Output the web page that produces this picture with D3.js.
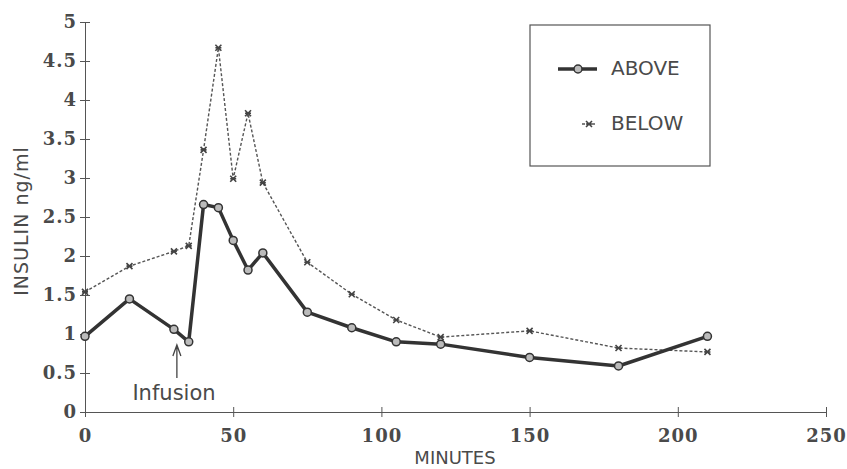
<!DOCTYPE html>
<meta charset="utf-8">
<style>
body { margin: 0; background: #fff; }
.axis path, .axis line { stroke: #555; }
.lbl { font-family: "DejaVu Sans", sans-serif; fill: #4a4a4a; }
</style>
<svg id="chart" width="847" height="469"></svg>
<script src="https://d3js.org/d3.v7.min.js"></script>
<script>

// data
var minutes = [0, 15, 30, 35, 40, 45, 50, 55, 60, 75, 90, 105, 120, 150, 180, 210];
var above = [0.97, 1.45, 1.06, 0.9, 2.66, 2.62, 2.2, 1.82, 2.04, 1.28, 1.08, 0.9, 0.87, 0.7, 0.59, 0.97];
var below = [1.54, 1.87, 2.06, 2.13, 3.36, 4.67, 2.99, 3.83, 2.94, 1.92, 1.51, 1.18, 0.96, 1.04, 0.82, 0.77];
var xTicks = [0, 50, 100, 150, 200, 250];
var yTicks = [0, 0.5, 1, 1.5, 2, 2.5, 3, 3.5, 4, 4.5, 5];

var svg = d3.select("#chart");

var x = d3.scaleLinear().domain([0, 250]).range([85, 826]);
var y = d3.scaleLinear().domain([0, 5]).range([412, 22]);

function tickFont(sel) {
  sel.attr("font-family", "'DejaVu Serif', serif")
     .attr("font-size", 18)
     .attr("font-weight", "bold")
     .attr("letter-spacing", 1)
     .attr("fill", "#4a4a4a");
}

// x axis, ticks cross the line
var xAxis = svg.append("g")
    .attr("class", "axis")
    .attr("transform", "translate(0,412)")
    .call(d3.axisBottom(x).tickValues(xTicks).tickSize(5).tickSizeOuter(0).tickFormat(d3.format("d")));
xAxis.selectAll(".tick line").attr("y1", -5);
xAxis.selectAll(".tick text").attr("y", 30).attr("dy", 0).call(tickFont);

var yAxis = svg.append("g")
    .attr("class", "axis")
    .attr("transform", "translate(85,0)")
    .call(d3.axisLeft(y).tickValues(yTicks).tickSize(5).tickSizeOuter(0).tickFormat(d3.format("")));
yAxis.selectAll(".tick line").attr("x1", 5);
yAxis.selectAll(".tick text").attr("x", -8).call(tickFont);

var line = d3.line()
    .x(function(d) { return x(d[0]); })
    .y(function(d) { return y(d[1]); });

var belowPts = minutes.map(function(m, i) { return [m, below[i]]; });
var abovePts = minutes.map(function(m, i) { return [m, above[i]]; });

svg.append("path")
    .datum(belowPts)
    .attr("d", line)
    .attr("fill", "none")
    .attr("stroke", "#555")
    .attr("stroke-width", 1.4)
    .attr("stroke-dasharray", "3,2");

function star(g, cx, cy, s) {
  g.append("path")
      .attr("d", "M" + (cx - s) + "," + (cy - s) + "L" + (cx + s) + "," + (cy + s) +
                 "M" + (cx - s) + "," + (cy + s) + "L" + (cx + s) + "," + (cy - s) +
                 "M" + (cx - s) + "," + cy + "L" + (cx + s) + "," + cy)
      .attr("stroke", "#444")
      .attr("stroke-width", 1.6);
}

var starG = svg.append("g");
belowPts.forEach(function(d) { star(starG, x(d[0]), y(d[1]), 3); });

svg.append("path")
    .datum(abovePts)
    .attr("d", line)
    .attr("fill", "none")
    .attr("stroke", "#333")
    .attr("stroke-width", 3.5)
    .attr("stroke-linejoin", "round");

svg.append("g").selectAll("circle")
    .data(abovePts)
    .enter().append("circle")
    .attr("cx", function(d) { return x(d[0]); })
    .attr("cy", function(d) { return y(d[1]); })
    .attr("r", 4)
    .attr("fill", "#bbb")
    .attr("stroke", "#333")
    .attr("stroke-width", 1.5);

// infusion arrow
svg.append("path")
    .attr("d", "M" + x(31) + ",378L" + x(31) + ",345M" + (x(31) - 4) + ",356L" + x(31) + ",345L" + (x(31) + 4) + ",356")
    .attr("fill", "none")
    .attr("stroke", "#444")
    .attr("stroke-width", 1.3);
svg.append("text")
    .attr("class", "lbl")
    .attr("x", 174)
    .attr("y", 400)
    .attr("text-anchor", "middle")
    .style("font-size", "21px")
    .text("Infusion");

// axis titles
svg.append("text")
    .attr("class", "lbl")
    .attr("x", 455)
    .attr("y", 464)
    .attr("text-anchor", "middle")
    .style("font-size", "18px")
    .text("MINUTES");
svg.append("text")
    .attr("class", "lbl")
    .attr("transform", "translate(28,221) rotate(-90)")
    .attr("text-anchor", "middle")
    .style("font-size", "19px")
    .attr("letter-spacing", 1)
    .text("INSULIN ng/ml");

// legend
var leg = svg.append("g");
leg.append("rect")
    .attr("x", 530).attr("y", 25).attr("width", 180).attr("height", 141)
    .attr("fill", "none").attr("stroke", "#555").attr("stroke-width", 1.2);
leg.append("line")
    .attr("x1", 558).attr("x2", 597).attr("y1", 69).attr("y2", 69)
    .attr("stroke", "#333").attr("stroke-width", 3.5);
leg.append("circle")
    .attr("cx", 578).attr("cy", 69).attr("r", 4)
    .attr("fill", "#bbb").attr("stroke", "#333").attr("stroke-width", 1.5);
leg.append("text")
    .attr("class", "lbl")
    .attr("x", 611).attr("y", 75)
    .style("font-size", "20px")
    .text("ABOVE");
leg.append("line")
    .attr("x1", 582).attr("x2", 596).attr("y1", 124).attr("y2", 124)
    .attr("stroke", "#555").attr("stroke-width", 1.3).attr("stroke-dasharray", "3,2");
star(leg, 589, 124, 3);
leg.append("text")
    .attr("class", "lbl")
    .attr("x", 611).attr("y", 130)
    .style("font-size", "20px")
    .text("BELOW");

</script>
